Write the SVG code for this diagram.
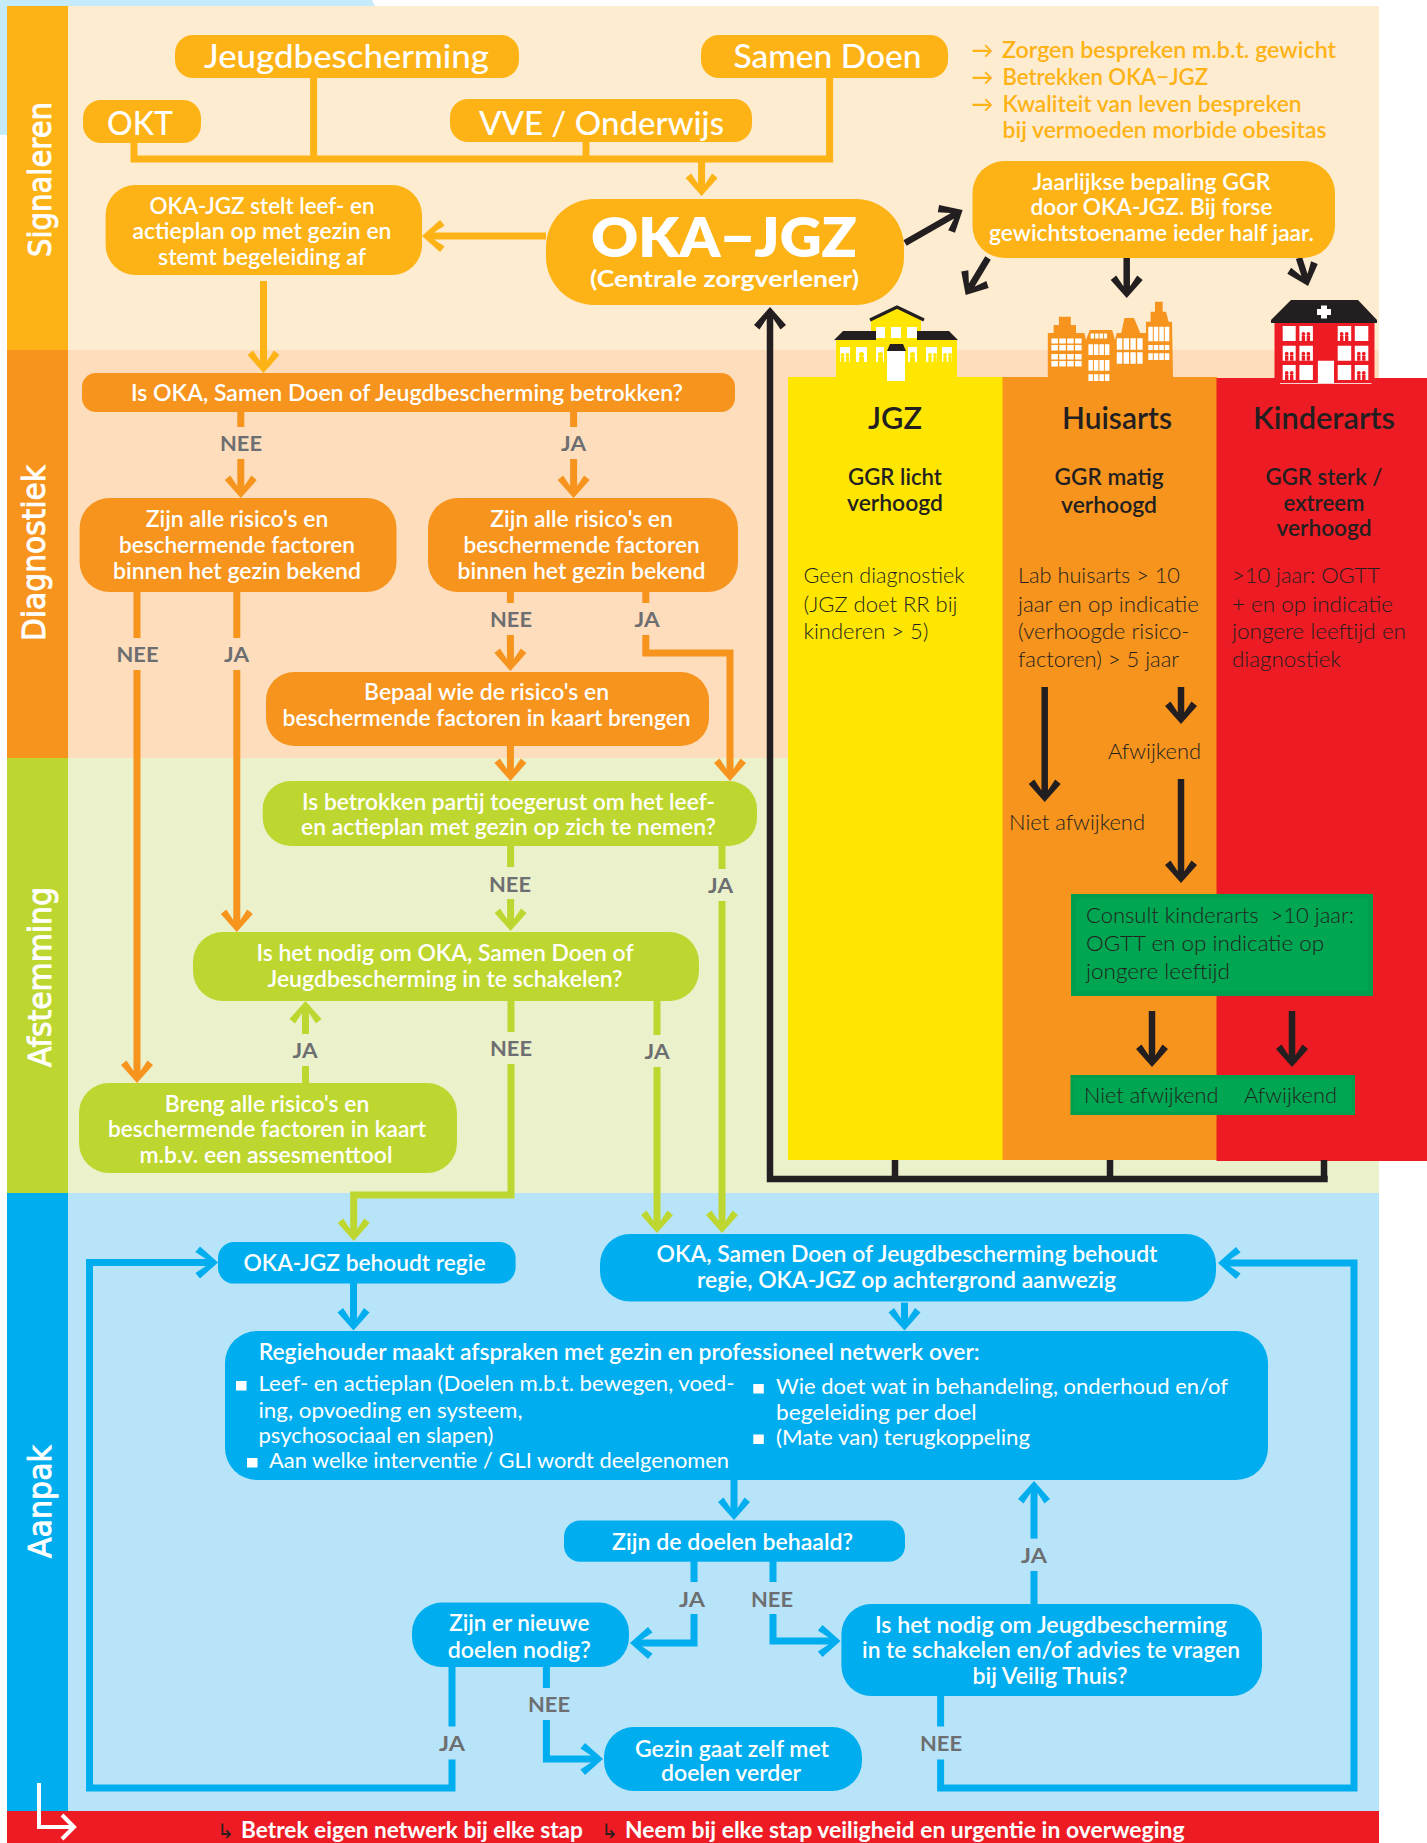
<svg xmlns="http://www.w3.org/2000/svg" width="1427" height="1843" viewBox="0 0 1427 1843">
<style>
text{font-family:"Lato","Open Sans","Liberation Sans",sans-serif;}
.w,.t,.h,.s,.y{transform:translateY(1px);}
.w{fill:#fff;font-weight:600;font-size:22px;text-anchor:middle;}
.t{fill:#fff;font-weight:500;font-size:33px;text-anchor:middle;}
.l{fill:#fff;font-weight:400;font-size:21px;}
.g{fill:#6D6E71;font-weight:700;font-size:21px;text-anchor:middle;}
.d{fill:#231F20;font-weight:300;font-size:22px;}
.h{fill:#231F20;font-weight:600;font-size:31px;text-anchor:middle;}
.s{fill:#231F20;font-weight:600;font-size:22px;text-anchor:middle;}
.b{fill:#fff;font-family:"DejaVu Sans",sans-serif;font-size:32px;stroke:#fff;stroke-width:.9;}
.y{fill:#FDB316;font-weight:600;font-size:22px;}
.r{fill:#fff;font-weight:700;font-size:22px;}
.ar{fill:#231F20;font-size:20px;font-family:"DejaVu Sans",sans-serif;}
.am{fill:#FDB316}.or{fill:#F7941D}.li{fill:#BED730}.bl{fill:#00AEEF}
.c{fill:none;stroke-width:7;stroke-miterlimit:10}
.cam{stroke:#FDB316}.cor{stroke:#F7941D}.cli{stroke:#BED730}.cbl{stroke:#00AEEF}.cdk{stroke:#231F20;stroke-width:6.5}
.win{stroke:#fff;fill:none}
</style>
<defs>
<marker id="mam" markerUnits="userSpaceOnUse" markerWidth="40" markerHeight="40" viewBox="-30 -20 40 40" refX="0" refY="0" orient="auto"><path fill="#FDB316" d="M8,0-10,16-14.600,10.500-4,3.500-4,-3.500-14.600,-10.500-10,-16Z"/></marker>
<marker id="mor" markerUnits="userSpaceOnUse" markerWidth="40" markerHeight="40" viewBox="-30 -20 40 40" refX="0" refY="0" orient="auto"><path fill="#F7941D" d="M8,0-10,16-14.600,10.500-4,3.500-4,-3.500-14.600,-10.500-10,-16Z"/></marker>
<marker id="mli" markerUnits="userSpaceOnUse" markerWidth="40" markerHeight="40" viewBox="-30 -20 40 40" refX="0" refY="0" orient="auto"><path fill="#BED730" d="M8,0-10,16-14.600,10.500-4,3.500-4,-3.500-14.600,-10.500-10,-16Z"/></marker>
<marker id="mbl" markerUnits="userSpaceOnUse" markerWidth="40" markerHeight="40" viewBox="-30 -20 40 40" refX="0" refY="0" orient="auto"><path fill="#00AEEF" d="M8,0-10,16-14.600,10.500-4,3.500-4,-3.500-14.600,-10.500-10,-16Z"/></marker>
<marker id="mdk" markerUnits="userSpaceOnUse" markerWidth="40" markerHeight="40" viewBox="-30 -20 40 40" refX="0" refY="0" orient="auto"><path fill="#231F20" d="M8,0-10,16-14.600,10.500-4,3.500-4,-3.500-14.600,-10.500-10,-16Z"/></marker>
<g id="figR"><circle cx="4" cy="8" r="1.900"/><circle cx="9" cy="8" r="1.900"/><rect x="2.300" y="10" width="3.400" height="5"/><rect x="7.300" y="10" width="3.400" height="5"/></g>
<g id="fig1"><circle cx="5" cy="7.500" r="2.500"/><rect x="2.500" y="10" width="5" height="5"/></g>
</defs>

<g id="backgrounds">
<path fill="#C5EAFA" d="M0,0H372L375,6H7V135H0Z"/>
<rect x="68" y="6" width="1311" height="344" fill="#FEECD0"/>
<rect x="68" y="350" width="1311" height="408" fill="#FDDDBB"/>
<rect x="68" y="758" width="1311" height="435" fill="#EBF1CB"/>
<rect x="68" y="1193" width="1311" height="618" fill="#B8E4F9"/>
<rect x="7" y="6" width="61" height="344" fill="#FDB316"/>
<rect x="7" y="350" width="61" height="408" fill="#F7941D"/>
<rect x="7" y="758" width="61" height="435" fill="#BED730"/>
<rect x="7" y="1193" width="61" height="618" fill="#00AEEF"/>
<rect x="7" y="1811" width="1372" height="32" fill="#ED1C24"/>
<text class="b" transform="translate(50.500,257) rotate(-90)" textLength="155" lengthAdjust="spacingAndGlyphs">Signaleren</text>
<text class="b" transform="translate(45,641) rotate(-90)" textLength="176" lengthAdjust="spacingAndGlyphs">Diagnostiek</text>
<text class="b" transform="translate(51,1067) rotate(-90)" textLength="180" lengthAdjust="spacingAndGlyphs">Afstemming</text>
<text class="b" transform="translate(50.500,1558) rotate(-90)" textLength="113" lengthAdjust="spacingAndGlyphs">Aanpak</text>
</g>

<g id="panels">
<rect x="788" y="377" width="215" height="783" fill="#FFE600"/>
<rect x="1002.500" y="377" width="214.500" height="783" fill="#F7941D"/>
<rect x="1216.500" y="378" width="210.500" height="783" fill="#ED1C24"/>

<g id="building-jgz">
<rect x="836" y="340" width="121" height="38" fill="#FFE600"/>
<path fill="#FFE600" d="M871,352V320L897,307L921,320V352Z"/>
<path fill="none" stroke="#231F20" stroke-width="3.200" d="M870,320L897,307L924,320"/>
<path fill="#231F20" d="M834,340L843,331H876V340ZM917,331H949L958,340H917Z"/>
<path fill="#fff" d="M876,327H885V338H876ZM891,327H901V338H891ZM907,327H917V338H907ZM887,351H905V381H887ZM840,347H850V362H840ZM856,347H867V362H856ZM876,347H884V362H876ZM908,347H917V362H908ZM926,347H937V362H926ZM942,347H952V362H942Z"/>
<path fill="#231F20" d="M887,351L890,344H903L906,351Z"/>
<g fill="#FFE600"><use href="#figR" x="838.500" y="347"/><use href="#fig1" x="856.500" y="347"/><use href="#fig1" x="875.500" y="347"/><use href="#fig1" x="907.500" y="347"/><use href="#figR" x="926" y="347"/><use href="#figR" x="941" y="347"/></g>
</g>

<g id="building-huisarts">
<polygon fill="#F7941D" points="1047.800,378 1047.800,333 1053.600,333 1053.600,325 1059,325 1059,316.700 1070.800,316.700 1070.800,325 1076,325 1076,333 1084.300,333 1086,340 1089.700,330 1112.200,330 1115,340 1116.800,333 1121.300,333 1124.400,318 1133.900,318 1137,325 1140.200,333 1146,333 1146,321.700 1150.600,321.700 1150.600,311.700 1155,311.700 1155,301.700 1162.700,301.700 1162.700,311.700 1166,311.700 1168.600,321.700 1172,321.700 1173,378"/>
<g class="win">
<path stroke-width="5" stroke-dasharray="6.500 1.400" d="M1051.400,341H1081.600"/>
<path stroke-width="5.500" stroke-dasharray="6.500 1.400" d="M1051.400,347.800H1081.600M1051.400,356.800H1081.600M1051.400,363.800H1081.600"/>
<path stroke-width="5" stroke-dasharray="3.500 1" d="M1090.600,336H1107"/>
<path stroke-width="10.700" stroke-dasharray="4.500 1" d="M1088.400,349.700H1110M1088.400,365.300H1110"/>
<path stroke-width="6.700" stroke-dasharray="4.500 1" d="M1088.400,377.700H1110"/>
<path stroke-width="11.700" stroke-dasharray="5.400 1.400" d="M1116.800,344H1143M1116.800,358H1143"/>
<path stroke-width="14.300" stroke-dasharray="4.500 1" d="M1148.300,334H1170"/>
<path stroke-width="5" stroke-dasharray="4.500 1" d="M1148.300,347.500H1170"/>
<path stroke-width="6.700" stroke-dasharray="4.500 1" d="M1148.300,356.700H1170"/>
</g>
</g>

<g id="building-kinderarts">
<rect x="1274.500" y="323" width="100" height="60" fill="#ED1C24"/>
<path fill="#231F20" d="M1271,323V320L1291,300H1358L1377,320V323Z"/>
<path fill="#fff" d="M1321,305.500H1327V309H1331V315H1327V318.500H1321V315H1317V309H1321Z"/>
<path fill="#fff" d="M1282.700,326H1295.700V341H1282.700ZM1299.400,326H1312.900V341H1299.400ZM1337.700,326H1351.200V341H1337.700ZM1354.800,326H1368.300V341H1354.800ZM1282.700,345.700H1295.700V360.700H1282.700ZM1299.400,345.700H1312.900V360.700H1299.400ZM1337.700,345.700H1351.200V360.700H1337.700ZM1354.800,345.700H1368.300V360.700H1354.800ZM1282.700,365H1295.700V380H1282.700ZM1299.400,365H1312.900V380H1299.400ZM1337.700,365H1351.200V380H1337.700ZM1354.800,365H1368.300V380H1354.800ZM1317.900,360.700H1334V384H1317.900Z"/>
<rect x="1280" y="383" width="91.500" height="1" fill="#FBD0D2"/>
<g fill="#ED1C24"><use href="#figR" x="1299.400" y="326"/><use href="#figR" x="1337.700" y="326"/><use href="#figR" x="1282.700" y="345.700"/><use href="#figR" x="1299.400" y="345.700"/><use href="#figR" x="1354.800" y="345.700"/><use href="#figR" x="1282.700" y="365"/><use href="#figR" x="1354.800" y="365"/></g>
</g>

<text class="h" x="895" y="428" textLength="54" lengthAdjust="spacingAndGlyphs">JGZ</text>
<text class="h" x="1117" y="428" textLength="110" lengthAdjust="spacingAndGlyphs">Huisarts</text>
<text class="h" x="1324" y="428" textLength="142" lengthAdjust="spacingAndGlyphs">Kinderarts</text>
<text class="s" x="895" y="484" textLength="94" lengthAdjust="spacingAndGlyphs">GGR licht</text>
<text class="s" x="895" y="510" textLength="96" lengthAdjust="spacingAndGlyphs">verhoogd</text>
<text class="s" x="1109" y="484" textLength="109" lengthAdjust="spacingAndGlyphs">GGR matig</text>
<text class="s" x="1109" y="512" textLength="96" lengthAdjust="spacingAndGlyphs">verhoogd</text>
<text class="s" x="1324" y="484" textLength="117" lengthAdjust="spacingAndGlyphs">GGR sterk /</text>
<text class="s" x="1324" y="510" textLength="81" lengthAdjust="spacingAndGlyphs">extreem</text>
<text class="s" x="1324" y="535" textLength="95" lengthAdjust="spacingAndGlyphs">verhoogd</text>
<text class="d" x="803.500" y="583" textLength="161" lengthAdjust="spacingAndGlyphs">Geen diagnostiek</text>
<text class="d" x="803.500" y="612" textLength="154" lengthAdjust="spacingAndGlyphs">(JGZ doet RR bij</text>
<text class="d" x="803.500" y="639" textLength="125" lengthAdjust="spacingAndGlyphs">kinderen &gt; 5)</text>
<text class="d" x="1018" y="583" textLength="162" lengthAdjust="spacingAndGlyphs">Lab huisarts &gt; 10</text>
<text class="d" x="1018" y="612" textLength="181" lengthAdjust="spacingAndGlyphs">jaar en op indicatie</text>
<text class="d" x="1018" y="639" textLength="171.500" lengthAdjust="spacingAndGlyphs">(verhoogde risico-</text>
<text class="d" x="1018" y="667" textLength="161" lengthAdjust="spacingAndGlyphs">factoren) &gt; 5 jaar</text>
<text class="d" x="1232" y="583" textLength="148" lengthAdjust="spacingAndGlyphs">&gt;10 jaar: OGTT</text>
<text class="d" x="1232" y="612" textLength="161" lengthAdjust="spacingAndGlyphs">+ en op indicatie</text>
<text class="d" x="1232" y="639" textLength="174" lengthAdjust="spacingAndGlyphs">jongere leeftijd en</text>
<text class="d" x="1232" y="667" textLength="109" lengthAdjust="spacingAndGlyphs">diagnostiek</text>
<text class="d" x="1108" y="759" textLength="93" lengthAdjust="spacingAndGlyphs">Afwijkend</text>
<text class="d" x="1009" y="830" textLength="136" lengthAdjust="spacingAndGlyphs">Niet afwijkend</text>
</g>

<g id="connectors">
<path class="c cam" d="M313.600,78V159M134,143V159H829.600V78M586,142V159"/>
<path class="c cam" marker-end="url(#mam)" d="M701.600,159V188"/>
<path class="c cam" marker-end="url(#mam)" d="M546,236H430"/>
<path class="c cam" marker-end="url(#mam)" d="M263.500,281V365"/>
<path class="c cor" d="M240.800,412V427M573.600,412V427M137,592V638M236.800,592V638M510.400,592V603M645.800,592V603"/>
<path class="c cor" marker-end="url(#mor)" d="M240.800,459V490"/>
<path class="c cor" marker-end="url(#mor)" d="M573.600,459V490"/>
<path class="c cor" marker-end="url(#mor)" d="M137,670V1075"/>
<path class="c cor" marker-end="url(#mor)" d="M236.800,670V924"/>
<path class="c cor" marker-end="url(#mor)" d="M510.400,635V663"/>
<path class="c cor" marker-end="url(#mor)" d="M645.800,635V653H730V773"/>
<path class="c cor" marker-end="url(#mor)" d="M510.400,746V773"/>
<path class="c cli" d="M510.600,846V867M722,846V869M511,1001V1032M657,1001V1035M305.500,1083V1066"/>
<path class="c cli" marker-end="url(#mli)" d="M510.600,899V923"/>
<path class="c cli" marker-end="url(#mli)" d="M722,901V1225"/>
<path class="c cli" marker-end="url(#mli)" d="M657,1067V1225"/>
<path class="c cli" marker-end="url(#mli)" d="M305.500,1034V1009"/>
<path class="c cli" marker-end="url(#mli)" d="M511,1064V1195H353.700V1233"/>
<path class="c cbl" marker-end="url(#mbl)" d="M353.500,1283V1322.500"/>
<path class="c cbl" marker-end="url(#mbl)" d="M904.500,1302.600V1322.500"/>
<path class="c cbl" marker-end="url(#mbl)" d="M734,1480V1512"/>
<path class="c cbl" d="M452,1667V1726.600M940.600,1696V1726.600M694,1561V1582M773,1561V1582M546.400,1667V1688M1034,1604V1571"/>
<path class="c cbl" marker-end="url(#mbl)" d="M452,1759.500V1788H89.500V1262.500H210"/>
<path class="c cbl" marker-end="url(#mbl)" d="M940.600,1759.500V1788H1354V1263H1226"/>
<path class="c cbl" marker-end="url(#mbl)" d="M694,1614V1643H638"/>
<path class="c cbl" marker-end="url(#mbl)" d="M773,1614V1641H832.500"/>
<path class="c cbl" marker-end="url(#mbl)" d="M546.400,1720V1759H595"/>
<path class="c cbl" marker-end="url(#mbl)" d="M1034,1538.600V1489"/>
<path class="c cdk" d="M895,1160V1179M1110,1160V1179M1324,1160V1179"/>
<path class="c cdk" marker-end="url(#mdk)" d="M1327.700,1179H770V315"/>
<path class="c cdk" marker-end="url(#mdk)" d="M905,243L955.700,214"/>
<path class="c cdk" marker-end="url(#mdk)" d="M988,258L969.800,288.200"/>
<path class="c cdk" marker-end="url(#mdk)" d="M1126.700,258V290"/>
<path class="c cdk" marker-end="url(#mdk)" d="M1299,258L1305.600,278.400"/>
<path class="c cdk" marker-end="url(#mdk)" d="M1044.700,687V794"/>
<path class="c cdk" marker-end="url(#mdk)" d="M1181,687V716"/>
<path class="c cdk" marker-end="url(#mdk)" d="M1181,779V875"/>
<path class="c cdk" marker-end="url(#mdk)" d="M1152,1011V1059"/>
<path class="c cdk" marker-end="url(#mdk)" d="M1292,1011V1059"/>
<path fill="none" stroke="#fff" stroke-width="4" d="M39,1783V1827H72M62,1815L74,1827L62,1839"/>
</g>

<g id="labels" class="labels">
<text class="g" x="241" y="451" textLength="42" lengthAdjust="spacingAndGlyphs">NEE</text>
<text class="g" x="573.500" y="451" textLength="25" lengthAdjust="spacingAndGlyphs">JA</text>
<text class="g" x="137.500" y="662" textLength="42" lengthAdjust="spacingAndGlyphs">NEE</text>
<text class="g" x="236.500" y="662" textLength="25" lengthAdjust="spacingAndGlyphs">JA</text>
<text class="g" x="511" y="627" textLength="42" lengthAdjust="spacingAndGlyphs">NEE</text>
<text class="g" x="647" y="627" textLength="25" lengthAdjust="spacingAndGlyphs">JA</text>
<text class="g" x="510" y="892" textLength="42" lengthAdjust="spacingAndGlyphs">NEE</text>
<text class="g" x="720.500" y="893" textLength="25" lengthAdjust="spacingAndGlyphs">JA</text>
<text class="g" x="305" y="1058" textLength="25" lengthAdjust="spacingAndGlyphs">JA</text>
<text class="g" x="511" y="1056" textLength="42" lengthAdjust="spacingAndGlyphs">NEE</text>
<text class="g" x="657" y="1059" textLength="25" lengthAdjust="spacingAndGlyphs">JA</text>
<text class="g" x="692" y="1606.600" textLength="26" lengthAdjust="spacingAndGlyphs">JA</text>
<text class="g" x="772" y="1606.600" textLength="42" lengthAdjust="spacingAndGlyphs">NEE</text>
<text class="g" x="549" y="1712" textLength="42" lengthAdjust="spacingAndGlyphs">NEE</text>
<text class="g" x="452" y="1751" textLength="26" lengthAdjust="spacingAndGlyphs">JA</text>
<text class="g" x="941" y="1751" textLength="42" lengthAdjust="spacingAndGlyphs">NEE</text>
<text class="g" x="1034" y="1562.500" textLength="26" lengthAdjust="spacingAndGlyphs">JA</text>
</g>

<g id="n-jeugd"><rect class="am" x="175" y="35" width="344" height="43" rx="18"/><text class="t" x="346.500" y="67" textLength="285" lengthAdjust="spacingAndGlyphs">Jeugdbescherming</text></g>
<g id="n-okt"><rect class="am" x="83" y="100" width="118" height="43" rx="18"/><text class="t" x="140" y="133.500" textLength="66" lengthAdjust="spacingAndGlyphs">OKT</text></g>
<g id="n-vve"><rect class="am" x="450" y="99" width="302" height="43" rx="18"/><text class="t" x="601.500" y="133.500" textLength="245" lengthAdjust="spacingAndGlyphs">VVE / Onderwijs</text></g>
<g id="n-samen"><rect class="am" x="701" y="35" width="247" height="43" rx="18"/><text class="t" x="827.500" y="67" textLength="188" lengthAdjust="spacingAndGlyphs">Samen Doen</text></g>
<g id="n-stelt"><rect class="am" x="105.600" y="185" width="316.400" height="90" rx="30"/>
<text class="w" x="262" y="213" textLength="225" lengthAdjust="spacingAndGlyphs">OKA-JGZ stelt leef- en</text>
<text class="w" x="262" y="238" textLength="259" lengthAdjust="spacingAndGlyphs">actieplan op met gezin en</text>
<text class="w" x="262" y="264" textLength="208" lengthAdjust="spacingAndGlyphs">stemt begeleiding af</text></g>
<g id="n-oka"><rect class="am" x="546" y="199" width="358" height="106" rx="48"/>
<text x="724" y="257" fill="#fff" font-weight="800" font-size="55" text-anchor="middle" textLength="266" lengthAdjust="spacingAndGlyphs">OKA−JGZ</text>
<text x="724.500" y="286.500" fill="#fff" font-weight="700" font-size="22" text-anchor="middle" textLength="269" lengthAdjust="spacingAndGlyphs">(Centrale zorgverlener)</text></g>
<g id="n-jaarlijks"><rect class="am" x="972.500" y="161" width="362.500" height="97" rx="32"/>
<text class="w" x="1151.500" y="189" textLength="238" lengthAdjust="spacingAndGlyphs">Jaarlijkse bepaling GGR</text>
<text class="w" x="1151.500" y="214" textLength="242" lengthAdjust="spacingAndGlyphs">door OKA-JGZ. Bij forse</text>
<text class="w" x="1151.500" y="240" textLength="325" lengthAdjust="spacingAndGlyphs">gewichtstoename ieder half jaar.</text></g>
<g id="n-bullets">
<text class="y" x="971.600" y="57">→</text><text class="y" x="1002" y="57" textLength="334" lengthAdjust="spacingAndGlyphs">Zorgen bespreken m.b.t. gewicht</text>
<text class="y" x="971.600" y="84">→</text><text class="y" x="1002.500" y="84" textLength="205.600" lengthAdjust="spacingAndGlyphs">Betrekken OKA−JGZ</text>
<text class="y" x="971.600" y="111">→</text><text class="y" x="1002.500" y="111" textLength="299" lengthAdjust="spacingAndGlyphs">Kwaliteit van leven bespreken</text>
<text class="y" x="1002.500" y="137" textLength="324" lengthAdjust="spacingAndGlyphs">bij vermoeden morbide obesitas</text>
</g>

<g id="n-betrokken"><rect class="or" x="82" y="373" width="653" height="39" rx="14"/><text class="w" x="407" y="400" textLength="552" lengthAdjust="spacingAndGlyphs">Is OKA, Samen Doen of Jeugdbescherming betrokken?</text></g>
<g id="n-zijn1"><rect class="or" x="79.600" y="498" width="316.900" height="94" rx="30"/>
<text class="w" x="237" y="526" textLength="182.600" lengthAdjust="spacingAndGlyphs">Zijn alle risico's en</text>
<text class="w" x="237" y="552" textLength="236" lengthAdjust="spacingAndGlyphs">beschermende factoren</text>
<text class="w" x="237" y="577.500" textLength="248" lengthAdjust="spacingAndGlyphs">binnen het gezin bekend</text></g>
<g id="n-zijn2"><rect class="or" x="428" y="498" width="310" height="94" rx="30"/>
<text class="w" x="581.600" y="526" textLength="182.600" lengthAdjust="spacingAndGlyphs">Zijn alle risico's en</text>
<text class="w" x="581.600" y="552" textLength="236" lengthAdjust="spacingAndGlyphs">beschermende factoren</text>
<text class="w" x="581.600" y="577.500" textLength="248" lengthAdjust="spacingAndGlyphs">binnen het gezin bekend</text></g>
<g id="n-bepaal"><rect class="or" x="266" y="672" width="443" height="74" rx="28"/>
<text class="w" x="486.600" y="699" textLength="245" lengthAdjust="spacingAndGlyphs">Bepaal wie de risico's en</text>
<text class="w" x="486.600" y="725" textLength="408" lengthAdjust="spacingAndGlyphs">beschermende factoren in kaart brengen</text></g>

<g id="n-toegerust"><rect class="li" x="262.700" y="781" width="494.300" height="65" rx="28"/>
<text class="w" x="508.500" y="809" textLength="413" lengthAdjust="spacingAndGlyphs">Is betrokken partij toegerust om het leef-</text>
<text class="w" x="508.500" y="834" textLength="415" lengthAdjust="spacingAndGlyphs">en actieplan met gezin op zich te nemen?</text></g>
<g id="n-nodig"><rect class="li" x="193" y="932" width="506" height="69" rx="30"/>
<text class="w" x="445" y="960" textLength="377" lengthAdjust="spacingAndGlyphs">Is het nodig om OKA, Samen Doen of</text>
<text class="w" x="445" y="986" textLength="355" lengthAdjust="spacingAndGlyphs">Jeugdbescherming in te schakelen?</text></g>
<g id="n-breng"><rect class="li" x="79" y="1083" width="378" height="90" rx="30"/>
<text class="w" x="267" y="1111" textLength="204.500" lengthAdjust="spacingAndGlyphs">Breng alle risico's en</text>
<text class="w" x="267" y="1136" textLength="318" lengthAdjust="spacingAndGlyphs">beschermende factoren in kaart</text>
<text class="w" x="266" y="1162" textLength="253" lengthAdjust="spacingAndGlyphs">m.b.v. een assesmenttool</text></g>

<g id="n-behoudt"><rect class="bl" x="218" y="1242" width="297.600" height="41.600" rx="16"/><text class="w" x="364.500" y="1270" textLength="242" lengthAdjust="spacingAndGlyphs">OKA-JGZ behoudt regie</text></g>
<g id="n-behoudt2"><rect class="bl" x="600" y="1234" width="616" height="67.500" rx="30"/>
<text class="w" x="907" y="1261" textLength="501" lengthAdjust="spacingAndGlyphs">OKA, Samen Doen of Jeugdbescherming behoudt</text>
<text class="w" x="906.500" y="1287" textLength="419" lengthAdjust="spacingAndGlyphs">regie, OKA-JGZ op achtergrond aanwezig</text></g>
<g id="n-regie"><rect class="bl" x="225" y="1331" width="1043" height="149" rx="32"/>
<text class="w" style="text-anchor:start" x="258.700" y="1359" textLength="721" lengthAdjust="spacingAndGlyphs">Regiehouder maakt afspraken met gezin en professioneel netwerk over:</text>
<rect x="236" y="1381" width="10.500" height="9.500" fill="#fff"/>
<text class="l" x="258.500" y="1391" textLength="476" lengthAdjust="spacingAndGlyphs">Leef- en actieplan (Doelen m.b.t. bewegen, voed-</text>
<text class="l" x="258.500" y="1417.500" textLength="264" lengthAdjust="spacingAndGlyphs">ing, opvoeding en systeem,</text>
<text class="l" x="258.500" y="1442.500" textLength="235" lengthAdjust="spacingAndGlyphs">psychosociaal en slapen)</text>
<rect x="247" y="1458" width="10.500" height="9.500" fill="#fff"/>
<text class="l" x="269" y="1467.500" textLength="460" lengthAdjust="spacingAndGlyphs">Aan welke interventie / GLI wordt deelgenomen</text>
<rect x="753.300" y="1384" width="10.500" height="9.500" fill="#fff"/>
<text class="l" x="776" y="1394" textLength="452" lengthAdjust="spacingAndGlyphs">Wie doet wat in behandeling, onderhoud en/of</text>
<text class="l" x="776" y="1420" textLength="200.700" lengthAdjust="spacingAndGlyphs">begeleiding per doel</text>
<rect x="753.300" y="1434.500" width="10.500" height="9.500" fill="#fff"/>
<text class="l" x="776" y="1445" textLength="254" lengthAdjust="spacingAndGlyphs">(Mate van) terugkoppeling</text></g>
<g id="n-doelen"><rect class="bl" x="564" y="1520.500" width="341" height="41.200" rx="16"/><text class="w" x="732.600" y="1548.500" textLength="241" lengthAdjust="spacingAndGlyphs">Zijn de doelen behaald?</text></g>
<g id="n-nieuw"><rect class="bl" x="412" y="1602.600" width="217" height="64.400" rx="30"/>
<text class="w" x="519.300" y="1630" textLength="140" lengthAdjust="spacingAndGlyphs">Zijn er nieuwe</text>
<text class="w" x="519.300" y="1656.500" textLength="143" lengthAdjust="spacingAndGlyphs">doelen nodig?</text></g>
<g id="n-gezin"><rect class="bl" x="604" y="1727" width="258" height="64" rx="30"/>
<text class="w" x="732" y="1755.500" textLength="194" lengthAdjust="spacingAndGlyphs">Gezin gaat zelf met</text>
<text class="w" x="731" y="1780" textLength="140" lengthAdjust="spacingAndGlyphs">doelen verder</text></g>
<g id="n-veilig"><rect class="bl" x="841.400" y="1604" width="420.600" height="92" rx="30"/>
<text class="w" x="1051" y="1632" textLength="352" lengthAdjust="spacingAndGlyphs">Is het nodig om Jeugdbescherming</text>
<text class="w" x="1051" y="1657" textLength="378" lengthAdjust="spacingAndGlyphs">in te schakelen en/of advies te vragen</text>
<text class="w" x="1050" y="1683" textLength="155" lengthAdjust="spacingAndGlyphs">bij Veilig Thuis?</text></g>

<g id="n-consult"><rect x="1073.500" y="896.500" width="297" height="97" fill="#00A651" stroke="#009E4D" stroke-width="5"/>
<text class="d" x="1086" y="923" textLength="268" lengthAdjust="spacingAndGlyphs" xml:space="preserve">Consult kinderarts  &gt;10 jaar:</text>
<text class="d" x="1086" y="951" textLength="238" lengthAdjust="spacingAndGlyphs">OGTT en op indicatie op</text>
<text class="d" x="1086" y="978.500" textLength="144" lengthAdjust="spacingAndGlyphs">jongere leeftijd</text></g>
<g id="n-uitkomst"><rect x="1072" y="1076.500" width="281.500" height="37" fill="#00A651" stroke="#009E4D" stroke-width="3"/>
<text class="d" x="1084" y="1103" textLength="134.500" lengthAdjust="spacingAndGlyphs">Niet afwijkend</text>
<text class="d" x="1244" y="1103" textLength="93" lengthAdjust="spacingAndGlyphs">Afwijkend</text></g>

<g id="footer">
<text class="ar" x="217" y="1838" textLength="17" lengthAdjust="spacingAndGlyphs">↳</text>
<text class="r" x="241" y="1838" textLength="342" lengthAdjust="spacingAndGlyphs">Betrek eigen netwerk bij elke stap</text>
<text class="ar" x="601" y="1838" textLength="17" lengthAdjust="spacingAndGlyphs">↳</text>
<text class="r" x="625" y="1838" textLength="559.500" lengthAdjust="spacingAndGlyphs">Neem bij elke stap veiligheid en urgentie in overweging</text>
</g>
</svg>
